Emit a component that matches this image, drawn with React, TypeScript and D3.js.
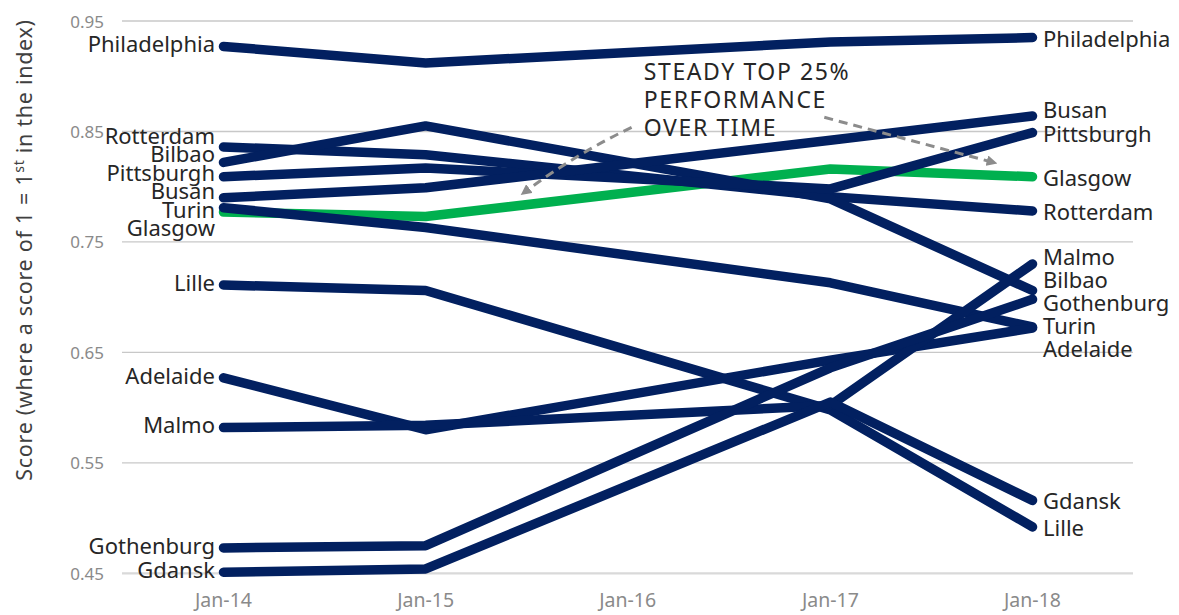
import React from "react";
import * as d3 from "d3";

// ---- data ----
const pointDates = ["2014-01-01", "2015-01-01", "2017-01-01", "2018-01-01"];
const tickLabels = ["Jan-14", "Jan-15", "Jan-16", "Jan-17", "Jan-18"];
const tickDates = ["2014-01-01", "2015-01-01", "2016-01-01", "2017-01-01", "2018-01-01"];
const yTicks = [0.45, 0.55, 0.65, 0.75, 0.85, 0.95];

const glasgow = [0.777, 0.773, 0.816, 0.809];
const philadelphia = [0.927, 0.912, 0.931, 0.935];
const rotterdam = [0.836, 0.829, 0.791, 0.778];
const bilbao = [0.822, 0.855, 0.789, 0.706];
const pittsburgh = [0.809, 0.817, 0.798, 0.849];
const busan = [0.790, 0.799, 0.842, 0.864];
const turin = [0.781, 0.763, 0.713, 0.673];
const lille = [0.711, 0.706, 0.598, 0.492];
const adelaide = [0.627, 0.580, 0.643, 0.672];
const malmo = [0.582, 0.584, 0.602, 0.730];
const gothenburg = [0.473, 0.475, 0.636, 0.698];
const gdansk = [0.451, 0.454, 0.605, 0.516];

const series = [
  { name: "Glasgow", values: glasgow, highlight: true },
  { name: "Philadelphia", values: philadelphia },
  { name: "Rotterdam", values: rotterdam },
  { name: "Bilbao", values: bilbao },
  { name: "Pittsburgh", values: pittsburgh },
  { name: "Busan", values: busan },
  { name: "Turin", values: turin },
  { name: "Lille", values: lille },
  { name: "Adelaide", values: adelaide },
  { name: "Malmo", values: malmo },
  { name: "Gothenburg", values: gothenburg },
  { name: "Gdansk", values: gdansk },
];

const annotationLines = ["STEADY TOP 25%", "PERFORMANCE", "OVER TIME"];
const yTitle = "Score (where a score of 1 = 1";
const yTitleSup = "st";
const yTitleEnd = " in the index)";

// ---- layout ----
const W = 1179;
const H = 615;
const NAVY = "#022060";
const GREEN = "#00B04F";
const FONT = "'Noto Sans', sans-serif";

const parse = (s: string) => new Date(s + "T00:00:00");

const x = d3.scaleTime().domain([parse(tickDates[0]), parse(tickDates[4])]).range([223.5, 1032.5]);
const y = d3.scaleLinear().domain([0.45, 0.95]).range([573.3, 21]);

function spread(items: { key: string; y: number }[], gap: number) {
  const arr = items.map((d) => ({ ...d })).sort((a, b) => a.y - b.y);
  for (let it = 0; it < 300; it++) {
    let moved = false;
    for (let i = 1; i < arr.length; i++) {
      const d = arr[i].y - arr[i - 1].y;
      if (d < gap - 0.01) {
        const push = (gap - d) / 2;
        arr[i - 1].y -= push;
        arr[i].y += push;
        moved = true;
      }
    }
    if (!moved) break;
  }
  const m: Record<string, number> = {};
  arr.forEach((d) => (m[d.key] = d.y));
  return m;
}

export default function App() {
  const line = d3
    .line<number>()
    .x((_, i) => x(parse(pointDates[i])))
    .y((v) => y(v));

  const leftPos = spread(series.map((s) => ({ key: s.name, y: y(s.values[0]) - 3 })), 18.4);
  const rightPos = spread(series.map((s) => ({ key: s.name, y: y(s.values[3]) - (s.name === "Busan" ? 7 : 0) })), 23);

  const x0 = x(parse(pointDates[0]));
  const x1 = x(parse(pointDates[3]));

  // annotation anchored in data space
  const annX = x(parse("2016-01-30"));
  const annY = y(0.897);
  const a1s: [number, number] = [x(parse("2016-01-08")), y(0.8537)];
  const a1e: [number, number] = [x(parse("2015-06-28")), y(0.7948)];
  const a2s: [number, number] = [x(parse("2016-12-21")), y(0.8628)];
  const a2e: [number, number] = [x(parse("2017-10-22")), y(0.822)];
  const a1c: [number, number] = [(a1s[0] + a1e[0]) / 2 - 2, (a1s[1] + a1e[1]) / 2 - 6];

  return (
    <svg
      width={W}
      height={H}
      style={{ position: "absolute", left: 0, top: 0, background: "#fff", display: "block" }}
      fontFamily={FONT}
    >
      <defs>
        <marker id="ah" viewBox="0 0 10 10" refX="6" refY="5" markerWidth="3.6" markerHeight="3.6" orient="auto">
          <path d="M0,0 L10,5 L0,10 Z" fill="#8c8c8c" />
        </marker>
      </defs>
      <rect x={0} y={0} width={W} height={H} fill="#fff" />
      {/* gridlines */}
      {yTicks.map((t) => (
        <g key={t}>
          <line
            x1={122}
            x2={1133}
            y1={y(t)}
            y2={y(t)}
            stroke={t === 0.45 ? "#d9d9d9" : "#c8c8c8"}
            strokeWidth={t === 0.45 ? 2.2 : 1.4}
          />
          <text x={104} y={y(t)} textAnchor="end" dominantBaseline="central" fontSize={17} fill="#8a8a8a">
            {t.toFixed(2)}
          </text>
        </g>
      ))}
      {/* x ticks */}
      {tickDates.map((d, i) => (
        <text key={d} x={x(parse(d))} y={599.5} textAnchor="middle" dominantBaseline="central" fontSize={19.5} fill="#8a8a8a">
          {tickLabels[i]}
        </text>
      ))}
      {/* y title */}
      <text
        transform={`translate(32, 250) rotate(-90)`}
        textAnchor="middle"
        fontSize={21.5}
        letterSpacing={0.7}
        fill="#404040"
      >
        {yTitle}
        <tspan fontSize={14} dy={-8}>{yTitleSup}</tspan>
        <tspan dy={8}>{yTitleEnd}</tspan>
      </text>
      {/* lines */}
      {series.map((s) => (
        <path
          key={s.name}
          d={line(s.values) || ""}
          fill="none"
          stroke={s.highlight ? GREEN : NAVY}
          strokeWidth={9.5}
          strokeLinecap="round"
          strokeLinejoin="round"
        />
      ))}
      {/* labels */}
      {series.map((s) => (
        <g key={"l" + s.name}>
          <text x={x0 - 8.5} y={leftPos[s.name]} textAnchor="end" dominantBaseline="central" fontSize={22} fill="#262626">
            {s.name}
          </text>
          <text x={x1 + 10.5} y={rightPos[s.name]} textAnchor="start" dominantBaseline="central" fontSize={22} fill="#262626">
            {s.name}
          </text>
        </g>
      ))}
      {/* annotation */}
      {annotationLines.map((t, i) => (
        <text key={t} x={annX} y={annY + i * 28} fontSize={23} letterSpacing={1.6} fill="#262626">
          {t}
        </text>
      ))}
      <path
        d={`M${a1s[0]},${a1s[1]} Q${a1c[0]},${a1c[1]} ${a1e[0]},${a1e[1]}`}
        fill="none"
        stroke="#8c8c8c"
        strokeWidth={3}
        strokeDasharray="9 6"
        markerEnd="url(#ah)"
      />
      <path
        d={`M${a2s[0]},${a2s[1]} L${a2e[0]},${a2e[1]}`}
        fill="none"
        stroke="#8c8c8c"
        strokeWidth={3}
        strokeDasharray="9 6"
        markerEnd="url(#ah)"
      />
    </svg>
  );
}
